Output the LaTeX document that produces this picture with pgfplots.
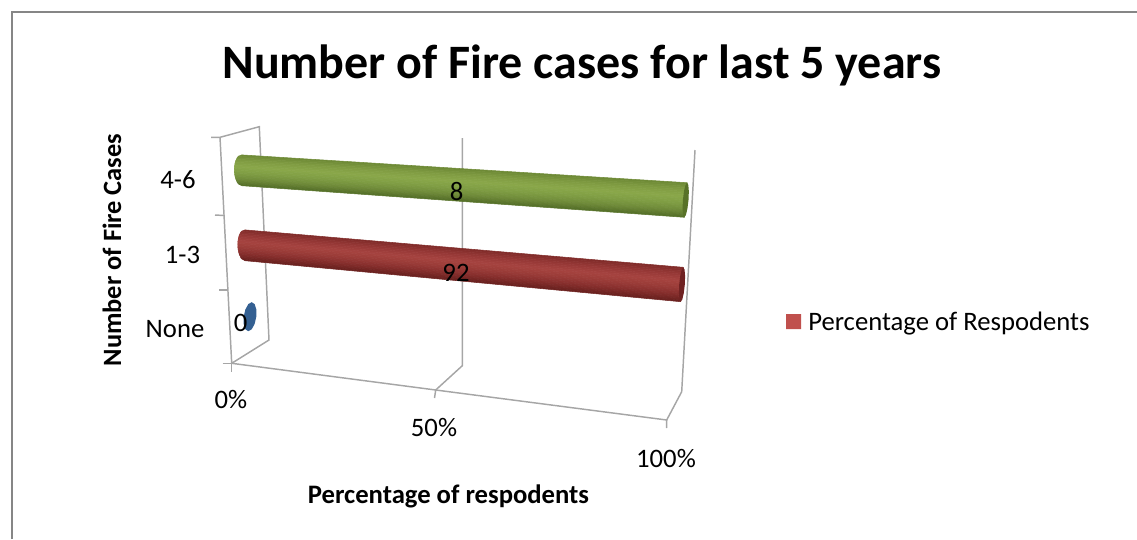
\documentclass[border=0pt]{standalone}
\usepackage{fontspec}
\setmainfont{Carlito}
\usepackage{pgfplots}
\usepackage{pgfplotstable}
\pgfplotsset{compat=1.18}
% Chart values: share of respondents (labels) and the extent of each bar on the 100% stacked axis
\pgfplotstableread{
cat  value extent
None 0     0
1-3  92    100
4-6  8     100
}\valuetable
% Cylinder surface: p = position along the axis (percent), s = position across the cylinder
\pgfplotstableread{
p s
0 1
100 1
-0.72 0.9
100 0.9
-0.99 0.8
100 0.8
-1.18 0.7
100 0.7
-1.32 0.6
100 0.6
-1.43 0.5
100 0.5
-1.51 0.4
100 0.4
-1.57 0.3
100 0.3
-1.62 0.2
100 0.2
-1.64 0.1
100 0.1
-1.65 0
100 0
-1.64 -0.1
100 -0.1
-1.62 -0.2
100 -0.2
-1.57 -0.3
100 -0.3
-1.51 -0.4
100 -0.4
-1.43 -0.5
100 -0.5
-1.32 -0.6
100 -0.6
-1.18 -0.7
100 -0.7
-0.99 -0.8
100 -0.8
-0.72 -0.9
100 -0.9
0 -1
100 -1
}\cylinder
% End face of a cylinder
\pgfplotstableread{
e s
1 0
0.87 0.5
0.5 0.87
0 1
-0.5 0.87
-0.87 0.5
-1 0
-0.87 -0.5
-0.5 -0.87
0 -1
0.5 -0.87
0.87 -0.5
1 0
}\capface
\definecolor{wall}{RGB}{166,166,166}
\newcommand{\barbody}[8]{% map, xL,yL,rL, xR,yR,rR, tiltR
  \addplot[surf,shader=flat,colormap name=#1,mesh/rows=21,mesh/cols=2,point meta=\thisrow{s},point meta min=-1,point meta max=1]
    table[x expr={#2+(#5-#2)*\thisrow{p}/100+\thisrow{s}*#8*\thisrow{p}/100},
          y expr={#3+(#6-#3)*\thisrow{p}/100-\thisrow{s}*(#4+(#7-#4)*\thisrow{p}/100)}] {\cylinder};
}
\newcommand{\capshape}[6]{% colour, xc,yc, half width, half height, tilt
  \addplot[fill=#1,draw=none]
    table[x expr={#2+#4*\thisrow{e}+#6*\thisrow{s}},y expr={#3-#5*\thisrow{s}}] {\capface};
}
\newcommand{\lbl}[4][28]{\node[font=\fontsize{#1}{#1}\selectfont,inner sep=0pt,anchor=center] at (axis cs:#2,#3) {#4};}
\begin{document}
\begin{tikzpicture}
\path[use as bounding box] (0,0) rectangle (852.75pt,404.25pt);
\begin{axis}[at={(0,0)},anchor=south west,scale only axis,width=852.75pt,height=404.25pt,
  xmin=0,xmax=1137,ymin=0,ymax=539,y dir=reverse,hide axis,clip=false,
  colormap={gr}{rgb255=(84,110,40) rgb255=(112,140,58) rgb255=(128,158,68) rgb255=(138,168,74) rgb255=(128,156,66) rgb255=(108,136,52)},
  colormap={rd}{rgb255=(104,32,30) rgb255=(134,46,44) rgb255=(154,60,56) rgb255=(166,68,64) rgb255=(150,56,54) rgb255=(126,42,40)}]
% outer frame
\addplot[draw={rgb,255:red,134;green,134;blue,134},line width=1.5pt] coordinates {(11.5,539) (11.5,11.5) (1137,11.5)};
% walls
\addplot[wall,line width=1.1pt] coordinates {(211,137.3) (220,137.3) (259.3,126.7) (269,340) (231.7,363.3) (220,137.3)};
\addplot[wall,line width=1.1pt] coordinates {(215,215) (224,215.5)};
\addplot[wall,line width=1.1pt] coordinates {(219,290) (228,290)};
\addplot[wall,line width=1.1pt] coordinates {(222.7,363.3) (231.7,363.3) (231.7,372)};
\addplot[wall,line width=1.1pt] coordinates {(231.7,363.3) (435.7,390) (666.7,420) (681.7,391.7) (695,150)};
\addplot[wall,line width=1.1pt] coordinates {(434.5,398) (435.7,390) (462.3,365.7) (462.3,138)};
\addplot[wall,line width=1.1pt] coordinates {(666.5,428) (666.7,420)};
% bars
\barbody{gr}{241.7}{170.3}{15.4}{685.7}{200}{17.3}{1.4}
\capshape{{rgb,255:red,88;green,114;blue,40}}{685.7}{200}{2.8}{17.3}{1.4}
\barbody{rd}{245}{245.3}{15.4}{682}{284.5}{17.2}{1.3}
\capshape{{rgb,255:red,112;green,34;blue,34}}{682}{284.5}{2.8}{17.2}{1.3}
\capshape{{rgb,255:red,52;green,96;blue,146}}{250}{316.7}{6.3}{14.5}{1.7}
% value labels
\lbl[20]{456.5}{191}{8}
\lbl[20]{456}{273}{92}
\lbl[20]{240.7}{323}{0}
% category and axis labels
\lbl[20]{178}{180}{4-6}
\lbl[20]{182.5}{255}{1-3}
\lbl[20]{175}{329}{None}
\lbl[20]{231}{400}{0\%}
\lbl[20]{434}{428}{50\%}
\lbl[20]{666}{459}{100\%}
\lbl[36]{582}{65}{\textbf{Number of Fire cases for last 5 years}}
\node[font=\fontsize{19.8}{20}\selectfont\bfseries,inner sep=0pt,rotate=90] at (axis cs:112,250) {Number of Fire Cases};
\lbl[20]{448.5}{496}{\textbf{Percentage of respodents}}
% legend
\addplot[fill={rgb,255:red,192;green,80;blue,77},draw=none] coordinates {(786,314) (801,314) (801,329) (786,329) (786,314)};
\node[font=\fontsize{20}{20}\selectfont,inner sep=0pt,anchor=west] at (axis cs:808,323.5) {Percentage of Respodents};
\end{axis}
\end{tikzpicture}
\end{document}
